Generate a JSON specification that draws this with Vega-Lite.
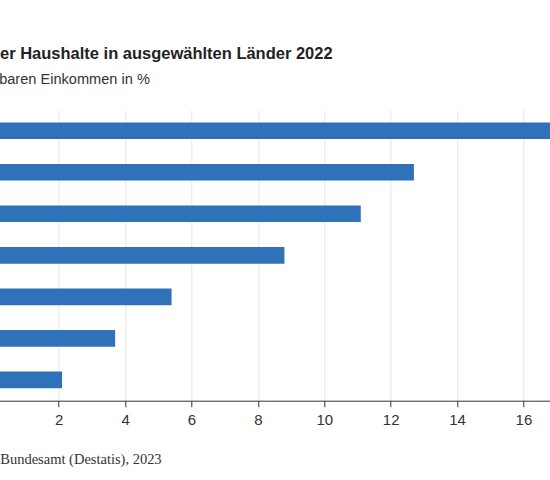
{
  "$schema": "https://vega.github.io/schema/vega-lite/v6.json",
  "autosize": {"type": "none"},
  "padding": {"left": -7.7, "top": 110, "right": 0, "bottom": 79},
  "width": 557.7,
  "height": 290.7,
  "background": "white",
  "title": {
    "text": "Sparquoten der Haushalte in ausgewählten Länder 2022",
    "subtitle": "Anteil am verfügbaren Einkommen in %",
    "anchor": "start",
    "frame": "group",
    "dx": -98.5,
    "offset": 23.5,
    "font": "Liberation Sans",
    "fontSize": 16.5,
    "fontWeight": "bold",
    "color": "#222222",
    "subtitleFont": "Liberation Sans",
    "subtitleFontSize": 14.6,
    "subtitleColor": "#333333",
    "subtitlePadding": 9.5
  },
  "data": {
    "values": [
      {"land": "Schweiz", "sparquote": 17.5},
      {"land": "Schweden", "sparquote": 12.7},
      {"land": "Deutschland", "sparquote": 11.1},
      {"land": "Österreich", "sparquote": 8.8},
      {"land": "Spanien", "sparquote": 5.4},
      {"land": "Vereinigte Staaten", "sparquote": 3.7},
      {"land": "Italien", "sparquote": 2.1}
    ]
  },
  "mark": {"type": "bar", "color": "#3072b9", "clip": true},
  "encoding": {
    "y": {
      "field": "land",
      "type": "nominal",
      "sort": null,
      "scale": {"paddingInner": 0.6, "paddingOuter": 0.3},
      "axis": {
        "title": null,
        "domain": false,
        "ticks": false,
        "labelPadding": 12,
        "labelFont": "Liberation Sans",
        "labelFontSize": 15,
        "labelColor": "#333333"
      }
    },
    "x": {
      "field": "sparquote",
      "type": "quantitative",
      "scale": {"domain": [0, 16.8], "nice": false},
      "axis": {
        "values": [0, 2, 4, 6, 8, 10, 12, 14, 16],
        "labelFlush": false,
        "title": "Quelle: Statistisches Bundesamt (Destatis), 2023",
        "titleFont": "Liberation Serif",
        "titleFontSize": 14.5,
        "titleFontWeight": "normal",
        "titleColor": "#333333",
        "titleAnchor": "start",
        "titleAlign": "left",
        "titleBaseline": "alphabetic",
        "titleX": -114,
        "titleY": 63,
        "labelFont": "Liberation Sans",
        "labelFontSize": 15,
        "labelColor": "#333333",
        "labelPadding": 6,
        "domainColor": "#333333",
        "tickColor": "#333333",
        "tickSize": 6,
        "gridColor": "#e6e6e6",
        "grid": true
      }
    }
  },
  "config": {"view": {"stroke": null}}
}
